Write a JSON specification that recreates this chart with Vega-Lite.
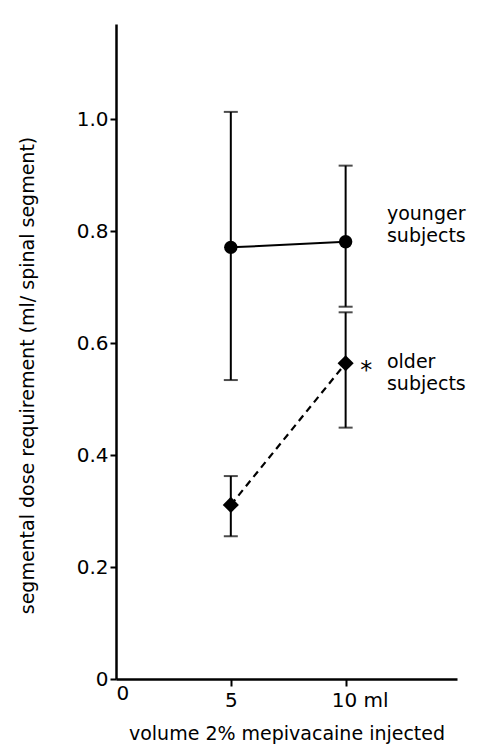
{
  "$schema": "https://vega.github.io/schema/vega-lite/v6.json",
  "autosize": "none",
  "width": 341,
  "height": 655,
  "padding": {"left": 116, "top": 24, "right": 44, "bottom": 66},
  "background": "white",
  "config": {
    "view": {"stroke": null},
    "font": "DejaVu Sans",
    "axis": {"grid": false, "domainColor": "black", "domainWidth": 2.5, "tickColor": "black", "tickWidth": 2, "labelColor": "black", "titleColor": "black", "labelFont": "DejaVu Sans", "titleFont": "DejaVu Sans", "titleFontWeight": "normal"}
  },
  "datasets": {
    "points": [
      {"group": "younger", "x": 5, "y": 0.771, "lo": 0.534, "hi": 1.013},
      {"group": "younger", "x": 10, "y": 0.781, "lo": 0.665, "hi": 0.917},
      {"group": "older", "x": 5, "y": 0.311, "lo": 0.255, "hi": 0.3625},
      {"group": "older", "x": 10, "y": 0.564, "lo": 0.449, "hi": 0.655}
    ],
    "labels": [
      {"kind": "group", "x": 11.8, "y": 0.83, "text": "younger\nsubjects"},
      {"kind": "group", "x": 11.8, "y": 0.566, "text": "older\nsubjects"},
      {"kind": "star", "x": 10.9, "y": 0.55, "text": "*"}
    ]
  },
  "data": {"name": "points"},
  "encoding": {
    "x": {"field": "x", "type": "quantitative", "scale": {"domain": [0, 14.85], "nice": false, "zero": false},
      "axis": {"values": [0, 5, 10], "title": "volume 2% mepivacaine injected", "titleFontSize": 19, "titleY": 54, "titleBaseline": "middle",
        "labelFontSize": 20, "labelPadding": 4, "labelExpr": "datum.value == 10 ? '10 ml' : datum.label",
        "labelOffset": {"condition": {"test": "datum.value == 10", "value": 14}, "value": 0},
        "tickSize": {"condition": {"test": "datum.value == 0", "value": 0}, "value": 7}}
    }
  },
  "layer": [
    {
      "mark": {"type": "rule", "color": "black", "strokeWidth": 2},
      "encoding": {
        "y": {"field": "lo", "type": "quantitative", "scale": {"domain": [0, 1.17], "nice": false},
          "axis": {"values": [0, 0.2, 0.4, 0.6, 0.8, 1.0], "title": "segmental dose requirement (ml/ spinal segment)", "titleFontSize": 19, "titleX": -89, "titleY": 351, "titleBaseline": "middle",
            "labelFontSize": 20, "labelPadding": 2, "tickSize": 6, "labelExpr": "datum.value == 0 ? '0' : format(datum.value, '.1f')"}},
        "y2": {"field": "hi"}
      }
    },
    {
      "mark": {"type": "tick", "orient": "horizontal", "color": "black", "size": 14, "thickness": 2},
      "encoding": {"y": {"field": "lo", "type": "quantitative"}}
    },
    {
      "mark": {"type": "tick", "orient": "horizontal", "color": "black", "size": 14, "thickness": 2},
      "encoding": {"y": {"field": "hi", "type": "quantitative"}}
    },
    {
      "transform": [{"filter": "datum.group == 'younger'"}],
      "mark": {"type": "line", "color": "black", "strokeWidth": 2},
      "encoding": {"y": {"field": "y", "type": "quantitative"}}
    },
    {
      "transform": [{"filter": "datum.group == 'older'"}],
      "mark": {"type": "line", "color": "black", "strokeWidth": 2.2, "strokeDash": [7, 5]},
      "encoding": {"y": {"field": "y", "type": "quantitative"}}
    },
    {
      "transform": [{"filter": "datum.group == 'younger'"}],
      "mark": {"type": "point", "shape": "circle", "filled": true, "color": "black", "opacity": 1, "size": 180},
      "encoding": {"y": {"field": "y", "type": "quantitative"}}
    },
    {
      "transform": [{"filter": "datum.group == 'older'"}],
      "mark": {"type": "point", "shape": "diamond", "filled": true, "color": "black", "opacity": 1, "size": 260},
      "encoding": {"y": {"field": "y", "type": "quantitative"}}
    },
    {
      "data": {"name": "labels"},
      "transform": [{"filter": "datum.kind == 'group'"}],
      "mark": {"type": "text", "align": "left", "baseline": "middle", "fontSize": 19, "lineHeight": 22, "lineBreak": "\n", "color": "black"},
      "encoding": {"y": {"field": "y", "type": "quantitative"}, "text": {"field": "text"}}
    },
    {
      "data": {"name": "labels"},
      "transform": [{"filter": "datum.kind == 'star'"}],
      "mark": {"type": "text", "align": "center", "baseline": "middle", "fontSize": 24, "color": "black"},
      "encoding": {"y": {"field": "y", "type": "quantitative"}, "text": {"field": "text"}}
    }
  ]
}
